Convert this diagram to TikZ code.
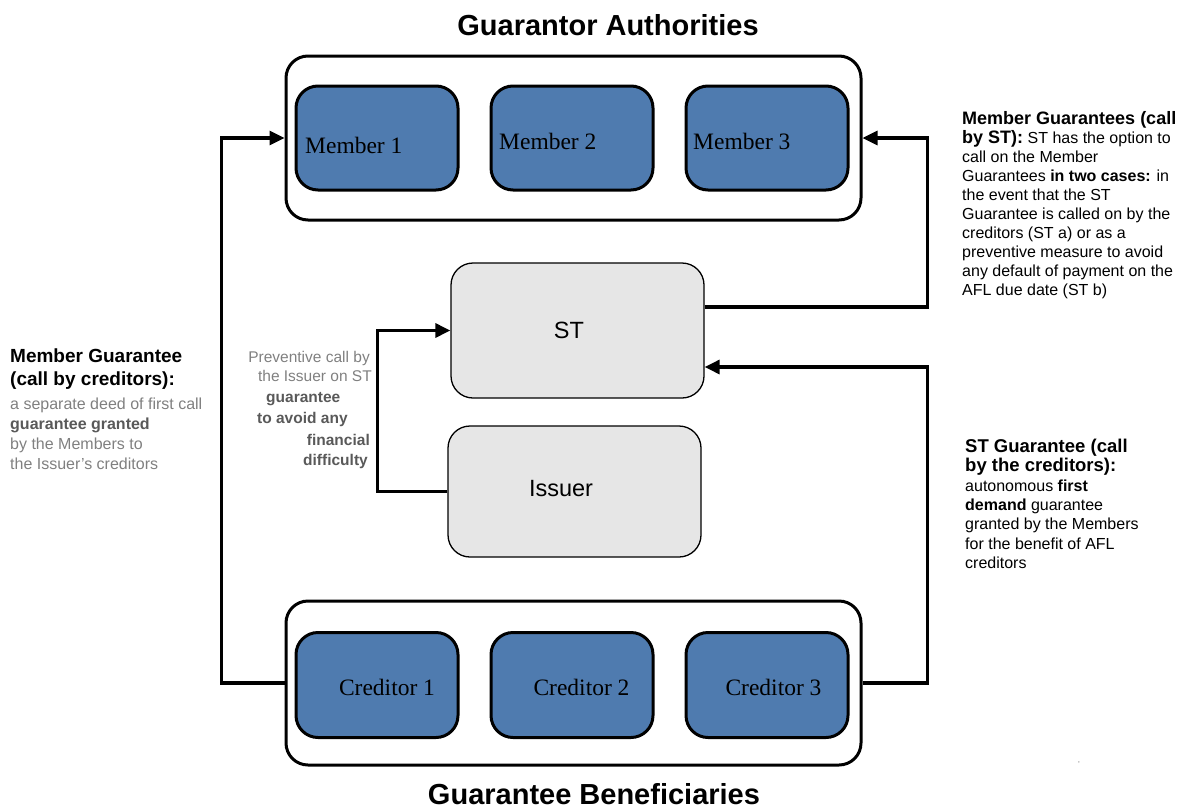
\documentclass[tikz,border=0pt]{standalone}
\usepackage{fontspec}
\setmainfont{Liberation Sans}
\newfontfamily\tnrfont{Liberation Serif}
\usetikzlibrary{arrows.meta}
\definecolor{memblue}{HTML}{4F7BAF}
\definecolor{stgray}{HTML}{E6E6E6}
\definecolor{txtgray}{HTML}{808080}
\definecolor{txtdark}{HTML}{595959}
\begin{document}
\begin{tikzpicture}[x=1pt,y=-1pt,
  outerbox/.style={draw=black,line width=3pt,rounded corners=22pt,minimum width=575pt,minimum height=164pt,inner sep=0pt},
  memberbox/.style={draw=black,fill=memblue,line width=3pt,rounded corners=22pt,minimum width=162pt,minimum height=104pt,inner sep=0pt},
  graybox/.style={draw=black,fill=stgray,line width=1.3pt,rounded corners=22pt,minimum width=253pt,inner sep=0pt},
  serlab/.style={font=\tnrfont\fontsize{23.5}{26}\selectfont,inner sep=0pt},
  sanslab/.style={font=\fontsize{23.5}{26}\selectfont,inner sep=0pt},
  titletext/.style={font=\bfseries\fontsize{29}{32}\selectfont,inner sep=0pt},
  conn/.style={line width=3.2pt},
  arr/.style={conn,-{Triangle[length=15pt,width=14pt]}},
  headtext/.style={anchor=north west,inner sep=0pt,align=left,font=\bfseries\fontsize{19}{23}\selectfont},
  bodytext/.style={anchor=north west,inner sep=0pt,align=left,font=\fontsize{16}{20}\selectfont},
  midtext/.style={inner sep=0pt,text=txtgray,font=\fontsize{15.5}{18}\selectfont},
  midbold/.style={inner sep=0pt,text=txtdark,font=\bfseries\fontsize{15.5}{18}\selectfont},
]
\useasboundingbox (0,0) rectangle (1188,809);

% titles
\node[titletext] (t1) at (608,25) {Guarantor Authorities};
\node[titletext] (t2) at (594,794) {Guarantee Beneficiaries};

% top group
\node[outerbox] (top) at (573.5,138) {};
\node[memberbox] (m1) at (377,138) {};
\node[memberbox] (m2) at (572,138) {};
\node[memberbox] (m3) at (767,138) {};
\node[serlab,anchor=west] (m1l) at (305,145) {Member 1};
\node[serlab,anchor=west] (m2l) at (499,141) {Member 2};
\node[serlab,anchor=west] (m3l) at (693,141) {Member 3};

% bottom group
\node[outerbox] (bot) at (573.5,683) {};
\node[memberbox,minimum height=105pt] (c1) at (377,685) {};
\node[memberbox,minimum height=105pt] (c2) at (572,685) {};
\node[memberbox,minimum height=105pt] (c3) at (767,685) {};
\node[serlab] (c1l) at (387,687) {Creditor 1};
\node[serlab] (c2l) at (581.5,687) {Creditor 2};
\node[serlab] (c3l) at (773.5,687) {Creditor 3};

% ST and Issuer
\node[graybox,minimum height=135pt] (st) at (577.5,330.5) {};
\node[graybox,minimum height=131pt] (iss) at (574.5,491.5) {};
\node[sanslab] (stl) at (569,330) {ST};
\node[sanslab] (issl) at (561,489) {Issuer};

% connectors
\draw[arr] (bot.west) -- ++(-63,0) |- (top.west);
\draw[arr] ([yshift=23.5pt]st.east) -| ([xshift=65pt]top.east) -- (top.east);
\draw[arr] (bot.east) -- ++(65,0) |- ([yshift=-36.5pt]st.east);
\draw[arr] (iss.west) -- ++(-70,0) |- (st.west);

% left text
\node[headtext] (lh) at (10,349) {Member Guarantee\\(call by creditors):};
\node[bodytext,text=txtgray] (lb) at (10,398) {a separate deed of first call\\{\bfseries\color{txtdark}guarantee granted}\\by the Members to\\the Issuer’s creditors};

% middle text
\node[midtext,anchor=base east] (mt1) at (370,362) {Preventive call by};
\node[midtext,anchor=base east] (mt2) at (372,381) {the Issuer on ST};
\node[midbold,anchor=base west] (mt3) at (266,402) {guarantee};
\node[midbold,anchor=base west] (mt4) at (257,423) {to avoid any};
\node[midbold,anchor=base east] (mt5) at (370,445) {financial};
\node[midbold,anchor=base west] (mt6) at (303,465) {difficulty};

% right top text
\node[anchor=north west,inner sep=0pt,align=left,font=\fontsize{16}{19}\selectfont] (rt) at (962,111)
{{\bfseries\fontsize{18}{19}\selectfont Member Guarantees (call}\\
{\bfseries\fontsize{18}{19}\selectfont by ST):} ST has the option to\\
call on the Member\\
Guarantees \textbf{in two cases:} in\\
the event that the ST\\
Guarantee is called on by the\\
creditors (ST a) or as a\\
preventive measure to avoid\\
any default of payment on the\\
AFL due date (ST b)};

% right bottom text
\node[anchor=north west,inner sep=0pt,align=left,font=\fontsize{16}{19.3}\selectfont] (rb) at (965,439)
{{\bfseries\fontsize{18.5}{19.3}\selectfont ST Guarantee (call}\\
{\bfseries\fontsize{18.5}{19.3}\selectfont by the creditors):}\\
autonomous \textbf{first}\\
\textbf{demand} guarantee\\
granted by the Members\\
for the benefit of AFL\\
creditors};

% stray mark
\node[inner sep=0pt,text=txtgray,font=\fontsize{8}{9}\selectfont] (comma) at (1079,763) {,};
\end{tikzpicture}
\end{document}
